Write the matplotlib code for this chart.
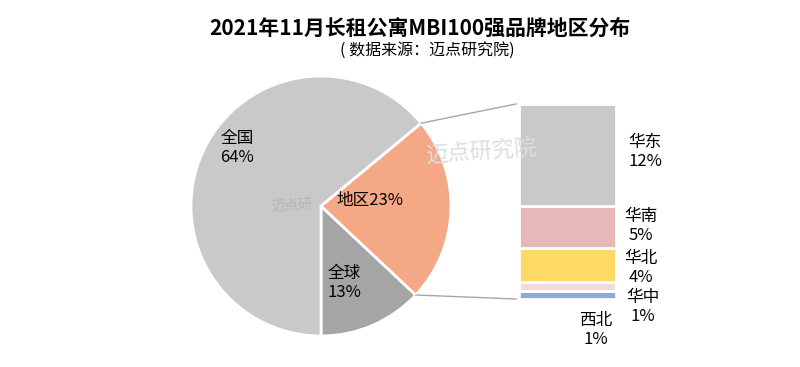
import matplotlib
matplotlib.use('Agg')
import matplotlib.pyplot as plt
import numpy as np

plt.rcParams['font.family'] = ['Noto Sans CJK SC', 'DejaVu Sans']

# pie data
pie_labels = ['全球', '地区', '全国']
pie_values = [13, 23, 64]
pie_colors = ['#A5A5A5', '#F4A886', '#C9C9C9']

# breakdown of 地区, bottom to top
sub_labels = ['华中', '西北', '华北', '华南', '华东']
sub_values = [1, 1, 4, 5, 12]
sub_colors = ['#8EA9DB', '#F2DCDB', '#FFD966', '#E6B8B7', '#C9C9C9']

W, H = 800, 367
fig = plt.figure(figsize=(8, 3.67), dpi=100)
ax = fig.add_axes([0, 0, 1, 1])

cx, cy, r = 321, H - 206, 130
wedges, _ = ax.pie(pie_values, colors=pie_colors, startangle=-90, counterclock=True,
                   center=(cx, cy), radius=r,
                   wedgeprops=dict(edgecolor='white', linewidth=2))

# stacked bar for the region breakdown
bar_x, bar_w = 567.5, 97
bar_bottom, bar_top = H - 299, H - 104
scale = (bar_top - bar_bottom) / sum(sub_values)
bottom = bar_bottom
for v, c in zip(sub_values, sub_colors):
    ax.bar(bar_x, v * scale, width=bar_w, bottom=bottom, color=c,
           edgecolor='white', linewidth=2)
    bottom += v * scale

# connection lines from 地区 wedge to bar
w = wedges[1]
for ang, yb in [(w.theta2, bar_top), (w.theta1, bar_bottom)]:
    a = np.deg2rad(ang)
    ax.plot([cx + r * np.cos(a), bar_x - bar_w / 2 - 3], [cy + r * np.sin(a), yb],
            color='#A6A6A6', lw=1)

# watermark
ax.text(482, H - 152, '迈点研究院', fontsize=16, color='#DEDEDE', rotation=4,
        ha='center', va='center', zorder=5)
ax.text(292, H - 205, '迈点研', fontsize=10, color='#B5B5B5', rotation=4,
        ha='center', va='center', zorder=5)

fs = 12
ax.text(237, H - 148, f'{pie_labels[2]}\n{pie_values[2]}%', fontsize=fs,
        ha='center', va='center', linespacing=1.15, zorder=6)
ax.text(370, H - 200, f'{pie_labels[1]}{pie_values[1]}%', fontsize=fs,
        ha='center', va='center', zorder=6)
ax.text(344, H - 283, f'{pie_labels[0]}\n{pie_values[0]}%', fontsize=fs,
        ha='center', va='center', linespacing=1.15, zorder=6)

# bar labels
lab_pos = {'华东': (645, H - 152), '华南': (641, H - 226), '华北': (641, H - 268),
           '华中': (643, H - 307), '西北': (596, H - 330)}
for lab, v in zip(sub_labels, sub_values):
    x, y = lab_pos[lab]
    ax.text(x, y, f'{lab}\n{v}%', fontsize=fs, ha='center', va='center',
            linespacing=1.15, zorder=6)

ax.set_xlim(0, W)
ax.set_ylim(0, H)
ax.set_aspect('equal')
ax.axis('off')

fig.text(420 / W, 1 - 28 / H, '2021年11月长租公寓MBI100强品牌地区分布', fontsize=15,
         fontweight='bold', ha='center', va='center')
fig.text(427 / W, 1 - 51 / H, '( 数据来源：迈点研究院)', fontsize=11.5,
         ha='center', va='center')

fig.savefig('out.png', dpi=100)
